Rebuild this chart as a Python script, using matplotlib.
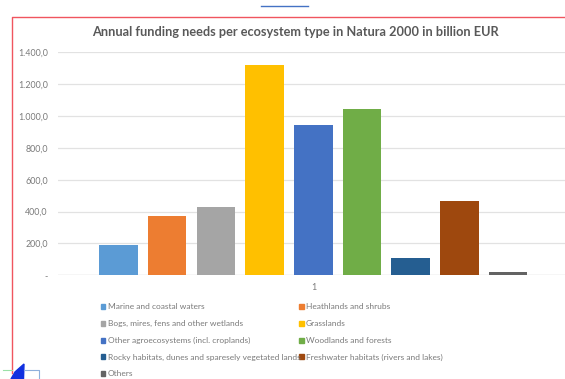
import matplotlib
matplotlib.use("Agg")
import matplotlib.pyplot as plt
from matplotlib.lines import Line2D
from matplotlib.patches import Polygon, Rectangle

plt.rcParams['font.family'] = ['Lato', 'DejaVu Sans']

categories = ["Marine and coastal waters", "Heathlands and shrubs",
              "Bogs, mires, fens and other wetlands", "Grasslands",
              "Other agroecosystems (incl. croplands)", "Woodlands and forests",
              "Rocky habitats, dunes and sparesely vegetated lands",
              "Freshwater habitats (rivers and lakes)", "Others"]
values = [192, 372, 427, 1322, 942, 1044, 110, 466, 19]
colors = ["#5b9bd5", "#ed7d31", "#a5a5a5", "#ffc000", "#4472c4",
          "#70ad47", "#255e91", "#9e480e", "#636363"]
ticks = [0, 200, 400, 600, 800, 1000, 1200, 1400]
tick_labels = ["-", "200,0", "400,0", "600,0", "800,0", "1.000,0", "1.200,0", "1.400,0"]

W, H = 565, 379
fig = plt.figure(figsize=(W / 100, H / 100), dpi=100)
ax = fig.add_axes([57.5 / W, 1 - 275.3 / H, (W - 57.5) / W, (275.3 - 52.3) / H])

# one cluster of bars, spaced evenly around the centre
x = [i * 48.7 for i in range(len(values))]
ax.bar(x, values, width=38.5, color=colors, zorder=3)
ax.set_xlim(-61, 446.5)
ax.set_ylim(0, 1400)
ax.set_yticks(ticks)
ax.set_yticklabels(tick_labels, fontsize=6.4, color="#7a7a7a")
ax.yaxis.grid(True, color="#e2e2e2", linewidth=0.9, zorder=0)
ax.tick_params(length=0, pad=7)
ax.set_xticks([])
for s in ax.spines.values():
    s.set_visible(False)
ax.axhline(0, color="#d9d9d9", linewidth=0.9, zorder=2)

def px(xp, yp, s, **kw):
    fig.text(xp / W, 1 - yp / H, s, va="center", **kw)

px(295.5, 32, "Annual funding needs per ecosystem type in Natura 2000 in billion EUR",
   ha="center", fontsize=9.15, color="#595959", fontweight="bold")
px(313.5, 287.5, "1", ha="center", fontsize=6.4, color="#7a7a7a")

# two column legend placed by hand
rows = [306, 323, 340, 356.5, 373]
for i, (name, c) in enumerate(zip(categories, colors)):
    col = i % 2
    xs = 100.5 if col == 0 else 299
    y = rows[i // 2]
    fig.patches.append(Rectangle((xs / W, 1 - (y + 2.5) / H), 5 / W, 5 / H,
                                 transform=fig.transFigure, color=c))
    px(xs + 7, y + 0.5, name, ha="left", fontsize=6.05, color="#7a7a7a")

# red frame round the chart
red = "#f0555f"
fig.add_artist(Line2D([11.5 / W, 11.5 / W, 1], [6 / H, 1 - 16.5 / H, 1 - 16.5 / H],
                      color=red, linewidth=1.0))
# short blue rule above the frame
fig.add_artist(Line2D([261 / W, 308 / W], [1 - 5.5 / H, 1 - 5.5 / H],
                      color="#4472c4", linewidth=1.0))

# cut-off shapes in the bottom corner
fig.add_artist(Line2D([3 / W, 12 / W], [9 / H, 9 / H], color="#9be0a8", linewidth=0.8))
fig.add_artist(Line2D([24 / W, 39 / W, 39 / W], [9 / H, 9 / H, 0], color="#8fb0dc", linewidth=0.8))
fig.patches.append(Polygon([(11 / W, 0), (15 / W, 7 / H), (24 / W, 15 / H), (23.5 / W, 0)],
                           transform=fig.transFigure, color="#1030e0"))

fig.savefig("out.png", dpi=100)
